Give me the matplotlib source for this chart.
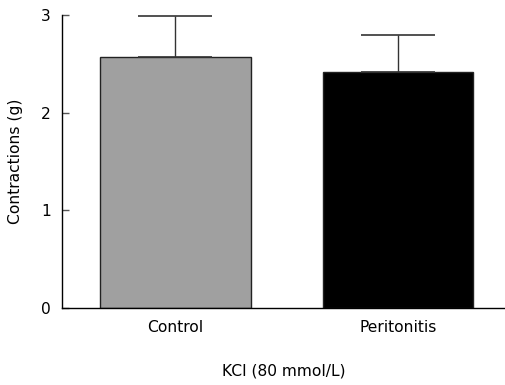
import numpy as np
import matplotlib
matplotlib.use("Agg")
import matplotlib.pyplot as plt

groups = ["Control", "Peritonitis"]
means = [2.57, 2.42]
sem = [0.42, 0.38]
colors = ["#a0a0a0", "#000000"]

plt.rcParams['font.family'] = ['DejaVu Sans']

fig = plt.figure(figsize=(5.05, 3.85), dpi=100)
ax = fig.add_axes([0.1228, 0.2, 0.8772, 0.761])

x = np.arange(len(groups))
ax.bar(x, means, width=0.677, color=colors, edgecolor="#222222", linewidth=1, zorder=2)
ax.errorbar(x, means, yerr=[np.zeros(len(sem)), sem], fmt="none",
            ecolor="#333333", elinewidth=1, capsize=26.5, capthick=1.2, zorder=3)

ax.set_xlim(-0.507, 1.48)
ax.set_ylim(0, 3)
ax.set_yticks([0, 1, 2, 3])
ax.set_xticks(x)
ax.set_xticklabels(groups)
ax.tick_params(axis="both", direction="in", length=5, width=1, color="#555555", labelsize=11.2)
ax.tick_params(axis="y", pad=8)
ax.tick_params(axis="x", pad=9)

for s in ["top", "right"]:
    ax.spines[s].set_visible(False)
ax.spines["left"].set_linewidth(1)
ax.spines["bottom"].set_linewidth(1)

ax.set_ylabel("Contractions (g)", fontsize=11.2, labelpad=13)
ax.set_xlabel("KCl (80 mmol/L)", fontsize=11.2, labelpad=20)

fig.savefig("out.png", dpi=100)
